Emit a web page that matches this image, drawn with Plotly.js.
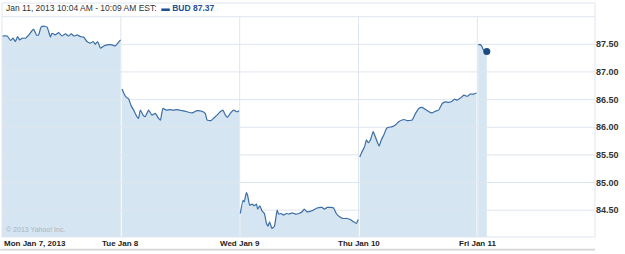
<!DOCTYPE html>
<html><head><meta charset="utf-8">
<script src="https://cdn.plot.ly/plotly-3.0.1.min.js"></script>
<style>html,body{margin:0;padding:0;background:#fff;}#chart{width:625px;height:254px;}</style>
</head><body><div id="chart"></div>
<script>
// Minutes after 9:30 AM open, and BUD price, for each trading day
const dayLabels = ['Mon Jan 7, 2013', 'Tue Jan 8', 'Wed Jan 9', 'Thu Jan 10', 'Fri Jan 11'];
const monMin = [0,17,28,36,44,51,58,66,77,88,99,104,113,120,128,137,148,159,164,175,186,197,208,219,227,237,246,257,268,279,290,299,306,314,323,334,345,361,372,380,389];
const monPx  = [87.65,87.65,87.57,87.61,87.55,87.64,87.58,87.61,87.61,87.67,87.75,87.77,87.67,87.67,87.81,87.83,87.81,87.63,87.70,87.67,87.71,87.65,87.69,87.65,87.69,87.65,87.67,87.64,87.63,87.55,87.52,87.55,87.50,87.55,87.43,87.47,87.49,87.49,87.47,87.52,87.58];
const tueMin = [4,11,18,26,33,42,53,58,64,73,80,91,102,113,124,130,138,149,160,173,184,201,217,234,250,266,277,283,296,304,316,326,335,343,350,359,370,381,388];
const tuePx  = [86.69,86.60,86.54,86.51,86.40,86.31,86.19,86.16,86.31,86.22,86.19,86.31,86.22,86.25,86.16,86.13,86.34,86.31,86.32,86.31,86.32,86.30,86.28,86.26,86.30,86.29,86.25,86.13,86.12,86.16,86.22,86.28,86.31,86.22,86.18,86.25,86.31,86.28,86.30];
const wedMin = [2,11,15,22,26,33,41,48,55,59,66,73,81,88,93,98,106,114,123,128,136,144,153,162,172,183,194,205,212,221,237,254,270,278,287,298,308,317,328,339,352,363,374,383,389];
const wedPx  = [84.44,84.68,84.65,84.82,84.77,84.59,84.61,84.58,84.61,84.52,84.58,84.49,84.44,84.26,84.21,84.29,84.17,84.21,84.50,84.43,84.44,84.41,84.44,84.43,84.45,84.43,84.44,84.47,84.52,84.47,84.49,84.54,84.55,84.52,84.55,84.55,84.54,84.44,84.38,84.35,84.35,84.33,84.29,84.26,84.33];
const thuMin = [4,12,20,26,32,39,48,53,61,68,74,83,92,99,111,121,132,143,149,160,176,187,198,209,220,231,242,252,263,275,285,296,307,315,324,335,346,357,367,378,387];
const thuPx  = [85.46,85.56,85.65,85.77,85.72,85.77,85.92,85.86,85.74,85.66,85.76,85.86,85.98,86.00,86.01,86.04,86.10,86.13,86.14,86.12,86.13,86.25,86.34,86.36,86.32,86.28,86.26,86.29,86.31,86.43,86.46,86.45,86.47,86.51,86.49,86.53,86.58,86.56,86.60,86.60,86.62];
const friMin = [3,8,14,19,24,31];
const friPx  = [87.49,87.50,87.47,87.41,87.37,87.37];
const yTicks = [84.5, 85.0, 85.5, 86.0, 86.5, 87.0, 87.5];
const yGridTop = 88.0;
const ticker = 'BUD';
const headerRange = 'Jan 11, 2013 10:04 AM - 10:09 AM EST:';

const SESSION = 390;
const days = [[monMin, monPx], [tueMin, tuePx], [wedMin, wedPx], [thuMin, thuPx], [friMin, friPx]];
const dayX = days.map((d, i) => d[0].map(m => i * SESSION + m));

const lineColor = '#3b6da5';
const fillColor = '#d5e5f2';
const gridColor = '#dfe6ee';
const xRange = [0, 4.99 * SESSION];
const yRange = [84.015, 88.247];

const traces = [];
// area fills
days.forEach((d, i) => traces.push({
  x: dayX[i], y: d[1], type: 'scatter', mode: 'none', fill: 'tozeroy',
  fillcolor: fillColor, hoverinfo: 'skip', showlegend: false
}));
// gridlines (drawn over the fill, under the price line)
const gx = [], gy = [];
yTicks.concat([yGridTop]).forEach(v => { gx.push(xRange[0], xRange[1], null); gy.push(v, v, null); });
for (let i = 1; i < dayLabels.length; i++) { gx.push(i * SESSION, i * SESSION, null); gy.push(yRange[0], yGridTop, null); }
traces.push({x: gx, y: gy, type: 'scatter', mode: 'lines', line: {color: gridColor, width: 1},
  hoverinfo: 'skip', showlegend: false, connectgaps: false});
// price lines
days.forEach((d, i) => traces.push({
  x: dayX[i], y: d[1], type: 'scatter', mode: 'lines',
  line: {color: lineColor, width: 1.2, shape: 'spline', smoothing: 0.4}, hoverinfo: 'skip', showlegend: false
}));
// last point marker
const lastX = dayX[4][dayX[4].length - 1];
const lastP = friPx[friPx.length - 1];
traces.push({x: [lastX], y: [lastP], type: 'scatter', mode: 'markers',
  marker: {color: '#1c4b82', size: 7}, hoverinfo: 'skip', showlegend: false});

const annotations = dayLabels.map((t, i) => ({
  x: i * SESSION, xref: 'x', y: 0, yref: 'paper', yanchor: 'top', xanchor: i === 0 ? 'left' : 'center',
  text: t, showarrow: false, yshift: 0,
  font: {family: 'Liberation Sans, Arial, sans-serif', size: 8, color: '#222', weight: 'bold'}
}));
annotations.push({
  x: 0.004, xref: 'paper', y: 0.978, yref: 'paper', xanchor: 'left', yanchor: 'middle', showarrow: false,
  text: headerRange + '  <span style="color:#1f5093"><b>▬</b> <b>' + ticker + ' ' + lastP.toFixed(2) + '</b></span>',
  font: {family: 'Liberation Sans, Arial, sans-serif', size: 8.5, color: '#333'}
});
annotations.push({
  x: 0.004, xref: 'paper', y: 0.01, yref: 'paper', xanchor: 'left', yanchor: 'bottom', showarrow: false,
  text: '© 2013 Yahoo! Inc.', font: {family: 'Liberation Sans, Arial, sans-serif', size: 7, color: '#a9b4bf'}
});

const layout = {
  width: 625, height: 254,
  margin: {l: 2, r: 30, t: 3, b: 17, pad: 0},
  paper_bgcolor: '#ffffff', plot_bgcolor: '#ffffff',
  showlegend: false,
  xaxis: {range: xRange, showgrid: false, zeroline: false, showticklabels: false, ticks: '', fixedrange: true},
  yaxis: {range: yRange, side: 'right', tickvals: yTicks, tickformat: '.2f', showgrid: false, zeroline: false,
    ticks: '', fixedrange: true,
    tickfont: {family: 'Liberation Sans, Arial, sans-serif', size: 9, color: '#333', weight: 'bold'}},
  annotations: annotations,
  shapes: [
    {type: 'rect', xref: 'paper', yref: 'paper', x0: 0, x1: 1, y0: 0, y1: 1, line: {color: gridColor, width: 1}, layer: 'above'},
    {type: 'rect', xref: 'paper', yref: 'paper', x0: -0.003, x1: 1, y0: -0.058, y1: -0.050,
     fillcolor: '#d6d6d6', line: {width: 0}, layer: 'above'}
  ]
};
Plotly.newPlot('chart', traces, layout, {staticPlot: true, displayModeBar: false});
</script></body></html>
